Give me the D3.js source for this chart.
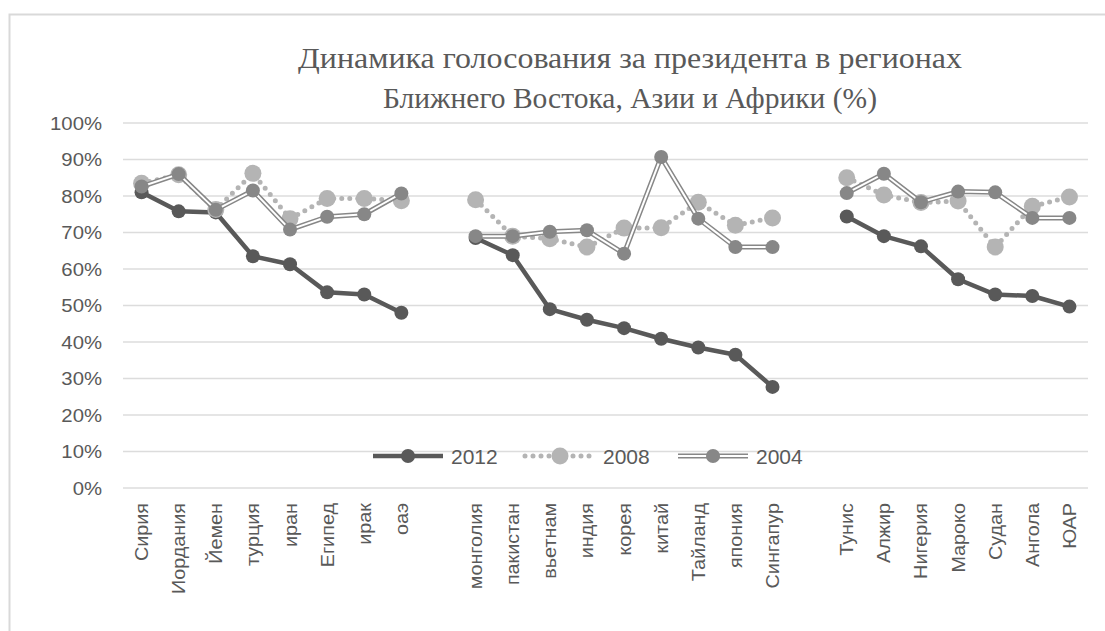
<!DOCTYPE html>
<html>
<head>
<meta charset="utf-8">
<script src="https://cdn.jsdelivr.net/npm/d3@7"></script>
<style>
  body { margin: 0; background: #fff; }
  text { fill: #595959; }
</style>
</head>
<body>
<script>
// categories, blank slots separate the three regions
var countries = ["Сирия", "Иордания", "Йемен", "турция", "иран", "Египед", "ирак", "оаэ", "gap1",
    "монголия", "пакистан", "вьетнам", "индия", "корея", "китай", "Тайланд", "япония", "Сингапур", "gap2",
    "Тунис", "Алжир", "Нигерия", "Мароко", "Судан", "Ангола", "ЮАР"];

var v2012 = [81, 75.8, 75.5, 63.5, 61.3, 53.6, 53, 48, null,
    68.5, 63.8, 49, 46.1, 43.8, 40.9, 38.5, 36.5, 27.7, null,
    74.4, 69, 66.2, 57.2, 53, 52.6, 49.7];
var v2008 = [83.5, 85.8, 76.3, 86.2, 73.8, 79.3, 79.3, 78.7, null,
    79, 69, 68.3, 66, 71.2, 71.3, 78.3, 72, 74, null,
    85, 80.3, 78.2, 78.6, 66, 77.2, 79.7];
var v2004 = [82.6, 86, 76.2, 81.5, 70.8, 74.3, 75, 80.7, null,
    69, 69, 70.2, 70.6, 64.2, 90.7, 73.8, 66, 66, null,
    80.8, 86.1, 78.3, 81.2, 81, 74, 74];

var yTicks = [0, 10, 20, 30, 40, 50, 60, 70, 80, 90, 100];
var seriesNames = ["2012", "2008", "2004"];

window.onload = function(){
    var width = 1105,
        height = 631;

    var svg = d3.select("body")
        .append("svg")
        .attr("width", width)
        .attr("height", height);

    // chart area border
    svg.append("rect")
        .attr("x", 9.5).attr("y", 14.5)
        .attr("width", 1110).attr("height", 640)
        .attr("fill", "none")
        .attr("stroke", "#d9d9d9")
        .attr("stroke-width", 2);

    var x = d3.scalePoint()
        .domain(countries)
        .range([123, 1088])
        .padding(0.5);

    var y = d3.scaleLinear()
        .domain([0, 100])
        .range([488, 123]);

    // gridlines
    svg.append("g")
        .selectAll("line")
        .data(yTicks)
        .enter()
        .append("line")
        .attr("x1", 123).attr("x2", 1088)
        .attr("y1", function(d){ return y(d); })
        .attr("y2", function(d){ return y(d); })
        .attr("stroke", "#dcdcdc")
        .attr("stroke-width", 1.3);

    // y labels (slightly stretched like the original)
    svg.append("g")
        .selectAll("text")
        .data(yTicks)
        .enter()
        .append("text")
        .attr("transform", function(d){ return "translate(102," + (y(d) + 6.5) + ") scale(1.13,1)"; })
        .attr("text-anchor", "end")
        .style("font-family", "Liberation Sans, Arial, sans-serif")
        .style("font-size", "18px")
        .text(function(d){ return d + "%"; });

    // x labels, rotated
    svg.append("g")
        .selectAll("text")
        .data(countries.filter(function(c){ return c.indexOf("gap") != 0; }))
        .enter()
        .append("text")
        .attr("transform", function(d){ return "translate(" + (x(d) + 6.5) + ",503) rotate(-90) scale(1.1,1)"; })
        .attr("text-anchor", "end")
        .style("font-family", "Liberation Sans, Arial, sans-serif")
        .style("font-size", "18px")
        .text(function(d){ return d; });

    var line = d3.line()
        .defined(function(d){ return d.v != null; })
        .x(function(d){ return x(d.c); })
        .y(function(d){ return y(d.v); });

    function pts(vals){
        return vals.map(function(v, i){ return { c: countries[i], v: v }; });
    }

    var series = [
        { name: "2012", data: pts(v2012), color: "#595959", r: 7 },
        { name: "2008", data: pts(v2008), color: "#b4b4b4", r: 8.5 },
        { name: "2004", data: pts(v2004), color: "#878787", r: 7 }
    ];

    function drawLine(g, s, d){
        if (s.name == "2012") {
            g.append("path").attr("d", d).attr("fill", "none")
                .attr("stroke", s.color).attr("stroke-width", 4.5)
                .attr("stroke-linejoin", "round");
        } else if (s.name == "2008") {
            g.append("path").attr("d", d).attr("fill", "none")
                .attr("stroke", s.color).attr("stroke-width", 5)
                .attr("stroke-linecap", "round")
                .attr("stroke-dasharray", "0 8");
        } else {
            g.append("path").attr("d", d).attr("fill", "none")
                .attr("stroke", s.color).attr("stroke-width", 5)
                .attr("stroke-linejoin", "round");
            g.append("path").attr("d", d).attr("fill", "none")
                .attr("stroke", "#fff").attr("stroke-width", 2)
                .attr("stroke-linejoin", "round");
        }
    }

    series.forEach(function(s){
        var g = svg.append("g");
        drawLine(g, s, line(s.data));
        g.selectAll("circle")
            .data(s.data.filter(function(d){ return d.v != null; }))
            .enter()
            .append("circle")
            .attr("cx", function(d){ return x(d.c); })
            .attr("cy", function(d){ return y(d.v); })
            .attr("r", s.r)
            .attr("fill", s.color);
    });

    // legend
    var legX = [373, 525, 678];
    series.forEach(function(s, i){
        var g = svg.append("g").attr("transform", "translate(" + legX[i] + ",456)");
        drawLine(g, s, "M0,0L70,0");
        g.append("circle").attr("cx", 35).attr("cy", 0).attr("r", s.r).attr("fill", s.color);
        g.append("text")
            .attr("x", 78).attr("y", 7.5)
            .style("font-family", "Liberation Sans, Arial, sans-serif")
            .style("font-size", "21px")
            .text(seriesNames[i]);
    });

    // title
    var title = svg.append("text")
        .attr("text-anchor", "middle")
        .style("font-family", "Liberation Serif, Times New Roman, serif")
        .style("font-size", "29px");
    title.append("tspan").attr("x", 630).attr("y", 68)
        .attr("textLength", 664).attr("lengthAdjust", "spacingAndGlyphs")
        .text("Динамика голосования за президента в регионах");
    title.append("tspan").attr("x", 630).attr("y", 108)
        .attr("textLength", 494).attr("lengthAdjust", "spacingAndGlyphs")
        .text("Ближнего Востока, Азии и Африки (%)");
};
</script>
</body>
</html>
